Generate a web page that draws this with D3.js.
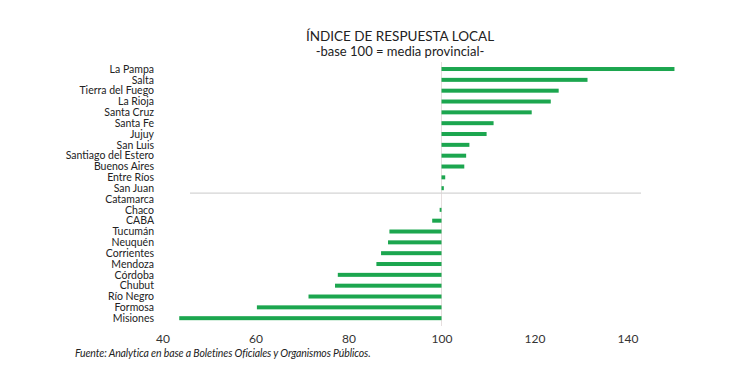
<!DOCTYPE html>
<html lang="es">
<head>
<meta charset="UTF-8">
<title>Índice de respuesta local</title>
<script src="https://d3js.org/d3.v7.min.js"></script>
<style>
    body { margin: 0; background: #fff; }
    svg { display: block; font-family: Lato, "Open Sans", sans-serif; }
    .title { font-size: 13.5px; fill: #222; }
    .subtitle { font-size: 13px; fill: #222; }
    .cat { font-size: 10.5px; fill: #222; }
    .axis text { font-size: 12px; fill: #333; font-family: Lato, sans-serif; }
    .source { font-size: 10.5px; font-style: italic; fill: #222; letter-spacing: -0.12px; }
</style>
</head>
<body>
<div id="chart"></div>
<script>
    var provincias = ["La Pampa", "Salta", "Tierra del Fuego", "La Rioja", "Santa Cruz", "Santa Fe",
        "Jujuy", "San Luis", "Santiago del Estero", "Buenos Aires", "Entre Ríos", "San Juan",
        "Catamarca", "Chaco", "CABA", "Tucumán", "Neuquén", "Corrientes", "Mendoza", "Córdoba",
        "Chubut", "Río Negro", "Formosa", "Misiones"];
    var indice = [150.1, 131.4, 125.2, 123.5, 119.4, 111.2, 109.7, 106.0, 105.3, 104.9, 100.8, 100.5,
        100.0, 99.6, 98.0, 88.8, 88.5, 87.0, 86.0, 77.7, 77.1, 71.4, 60.3, 43.6];
    var ticks = [40, 60, 80, 100, 120, 140];

    var w = 750, h = 386;

    var svg = d3.select("#chart").append("svg")
        .attr("width", w)
        .attr("height", h);

    var x = d3.scaleLinear().domain([40, 140]).range([162.5, 627.5]);
    var y = d3.scaleBand().domain(provincias).range([63.6, 323.6]);
    var barH = 4;

    // title
    svg.append("text").attr("class", "title")
        .attr("x", 400).attr("y", 40.5).attr("text-anchor", "middle")
        .text("ÍNDICE DE RESPUESTA LOCAL");
    svg.append("text").attr("class", "subtitle")
        .attr("x", 400).attr("y", 56).attr("text-anchor", "middle")
        .text("-base 100 = media provincial-");

    // baseline at 100
    svg.append("line")
        .attr("x1", x(100)).attr("x2", x(100))
        .attr("y1", 62).attr("y2", 326)
        .attr("stroke", "#e6dede").attr("stroke-width", 1);

    // separator line between San Juan and Catamarca
    var sepY = y("Catamarca") - 0.5;
    svg.append("line")
        .attr("x1", 190).attr("x2", 641)
        .attr("y1", sepY).attr("y2", sepY)
        .attr("stroke", "#d4d4d4").attr("stroke-width", 1.3);

    var data = provincias.map(function(p, i) { return { name: p, value: indice[i] }; });

    svg.selectAll(".bar")
        .data(data)
        .enter().append("rect")
        .attr("class", "bar")
        .attr("x", function(d) { return x(Math.min(d.value, 100)); })
        .attr("y", function(d) { return y(d.name) + y.bandwidth() / 2 - barH / 2; })
        .attr("width", function(d) { return Math.abs(x(d.value) - x(100)); })
        .attr("height", barH)
        .attr("fill", "#1ca64f");

    svg.selectAll(".cat")
        .data(provincias)
        .enter().append("text")
        .attr("class", "cat")
        .attr("x", 154)
        .attr("y", function(d) { return y(d) + y.bandwidth() / 2; })
        .attr("dy", "0.35em")
        .attr("text-anchor", "end")
        .text(function(d) { return d; });

    var axis = svg.append("g")
        .attr("class", "axis")
        .attr("transform", "translate(0,331)")
        .call(d3.axisBottom(x).tickValues(ticks).tickSize(0).tickPadding(3));
    axis.select(".domain").remove();

    svg.append("text").attr("class", "source")
        .attr("x", 75).attr("y", 357)
        .text("Fuente: Analytica en base a Boletines Oficiales y Organismos Públicos.");
</script>
</body>
</html>
